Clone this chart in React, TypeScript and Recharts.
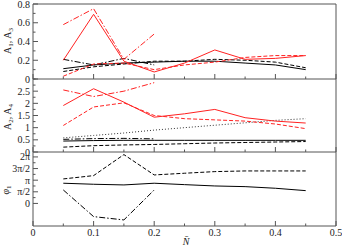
import React from 'react';
import { LineChart, Line, XAxis, YAxis } from 'recharts';

// x values (N bar)
const N = [0.05, 0.1, 0.15, 0.2, 0.25, 0.3, 0.35, 0.4, 0.45];
const xTicks = [0, 0.05, 0.1, 0.15, 0.2, 0.25, 0.3, 0.35, 0.4, 0.45, 0.5];
const xLabels = ['0', '', '0.1', '', '0.2', '', '0.3', '', '0.4', '', '0.5'];

// Panel 1: A1, A3
const a1Solid = [0.11, 0.15, 0.17, 0.18, 0.19, 0.19, 0.17, 0.15, 0.1];
const a1Dashed = [0.08, 0.13, 0.16, 0.19, 0.19, 0.21, 0.2, 0.18, 0.12];
const a1DashDot = [0.21, 0.15, 0.22, 0.15];
const a3Solid = [0.2, 0.69, 0.19, 0.075, 0.17, 0.31, 0.21, 0.22, 0.25];
const a3Dashed = [0.03, 0.16, 0.17, 0.1, 0.15, 0.18, 0.23, 0.25, 0.25];
const a3DashDot = [0.58, 0.75, 0.21, 0.48];
const p1Ticks = [0, 0.1, 0.2, 0.3, 0.4, 0.5, 0.6, 0.7, 0.8];
const p1Labels = ['0', '', '0.2', '', '0.4', '', '0.6', '', '0.8'];

// Panel 2: A2, A4
const a2Solid = [0.45, 0.47, 0.48, 0.48, 0.48, 0.48, 0.48, 0.48, 0.48];
const a2Dashed = [0.2, 0.26, 0.29, 0.31, 0.34, 0.37, 0.39, 0.41, 0.43];
const a2DashDot = [0.52, 0.55, 0.56, 0.54];
const a2Dotted = [0.58, 0.68, 0.78, 0.9, 1.0, 1.1, 1.2, 1.3, 1.37];
const a4Solid = [1.91, 2.6, 2.05, 1.43, 1.57, 1.75, 1.41, 1.27, 1.19];
const a4Dashed = [1.09, 1.85, 2.02, 1.5, 1.37, 1.32, 1.27, 1.15, 0.96];
const a4DashDot = [2.55, 2.28, 2.5, 2.85];
const p2Ticks = [0, 0.25, 0.5, 0.75, 1, 1.25, 1.5, 1.75, 2, 2.25, 2.5, 2.75, 3];
const p2Labels = ['0', '', '0.5', '', '1', '', '1.5', '', '2', '', '2.5', '', ''];

// Panel 3: phi1 (radians)
const phiSolid = [2.73, 2.59, 2.5, 2.73, 2.54, 2.36, 2.27, 2.05, 1.73];
const phiDashed = [3.31, 3.76, 6.6, 3.85, 4.08, 4.3, 4.39, 4.39, 4.39];
const phiDashDot = [1.82, -1.78, -2.23, 1.82];
const PI = Math.PI;
const p3Ticks = [0, PI / 4, PI / 2, (3 * PI) / 4, PI, (5 * PI) / 4, (3 * PI) / 2, (7 * PI) / 4, 2 * PI];
const p3Labels = ['0', '', 'π/2', '', 'π', '', '3π/2', '', '2π'];

const row = (i: number, keys: Record<string, number[]>) => {
  const r: Record<string, number | undefined> = { n: N[i] };
  Object.keys(keys).forEach((k) => {
    r[k] = keys[k][i];
  });
  return r;
};

const data1 = N.map((_, i) => row(i, { s: a1Solid, d: a1Dashed, dd: a1DashDot, rs: a3Solid, rd: a3Dashed, rdd: a3DashDot }));
const data2 = N.map((_, i) => row(i, { s: a2Solid, d: a2Dashed, dd: a2DashDot, dot: a2Dotted, rs: a4Solid, rd: a4Dashed, rdd: a4DashDot }));
const data3 = N.map((_, i) => row(i, { s: phiSolid, d: phiDashed, dd: phiDashDot }));

const FONT = '"Liberation Serif", "Times New Roman", serif';
const AXIS = '#555';
const TXT = '#222';
const RED = '#ff2222';
const DASH = '4 2';
const DASHDOT = '6 2 1.5 2';

function XTick(props: any) {
  const { x, y, payload, index, showLabel } = props;
  const lab = xLabels[index] ?? '';
  const major = Math.abs(payload.value * 10 - Math.round(payload.value * 10)) < 1e-6;
  return (
    <g>
      <line x1={x} x2={x} y1={y} y2={y - (major ? 5 : 2.5)} stroke={AXIS} strokeWidth={1} />
      {showLabel && lab !== '' && (
        <text x={x} y={y + 10} textAnchor="middle" fontSize={10} fontFamily={FONT} fill={TXT}>
          {lab}
        </text>
      )}
    </g>
  );
}

function YTick(props: any) {
  const { x, y, index, labels } = props;
  const lab = labels[index] ?? '';
  const major = lab !== '';
  return (
    <g>
      <line x1={x} x2={x + (major ? 5 : 2.5)} y1={y} y2={y} stroke={AXIS} strokeWidth={1} />
      {major && (
        <text x={x - 3} y={y + 3.5} textAnchor="end" fontSize={10} fontFamily={FONT} fill={TXT}>
          {lab}
        </text>
      )}
    </g>
  );
}

const W = 342;
const H = 248;
const LEFT = 33;
const RIGHT = 6;

function Panel(props: {
  data: any[];
  top: number;
  bottom: number;
  domain: [number, number];
  ticks: number[];
  labels: string[];
  showX: boolean;
  frameTop: boolean;
  children: React.ReactNode;
}) {
  const { data, top, bottom, domain, ticks, labels, showX, frameTop, children } = props;
  return (
    <div style={{ position: 'absolute', left: 0, top: 0 }}>
      <LineChart
        width={W}
        height={H}
        data={data}
        margin={{ top: frameTop ? top - 1 : top, right: RIGHT - 1, left: 0, bottom: H - bottom - 1 }}
      >
        <XAxis
          dataKey="n"
          type="number"
          domain={[0, 0.5]}
          ticks={xTicks}
          interval={0}
          height={1}
          tickSize={0}
          tickMargin={0}
          tickLine={false}
          axisLine={{ stroke: AXIS }}
          tick={(p: any) => <XTick {...p} showLabel={showX} />}
        />
        {frameTop && (
          <XAxis
            xAxisId="top"
            orientation="top"
            dataKey="n"
            type="number"
            domain={[0, 0.5]}
            height={1}
            tick={false}
            tickLine={false}
            axisLine={{ stroke: AXIS }}
          />
        )}
        <YAxis
          type="number"
          domain={domain}
          ticks={ticks}
          interval={0}
          width={LEFT}
          tickSize={0}
          tickMargin={0}
          tickLine={false}
          allowDataOverflow
          axisLine={{ stroke: AXIS }}
          tick={(p: any) => <YTick {...p} labels={labels} />}
        />
        <YAxis yAxisId="r" orientation="right" width={1} tick={false} tickLine={false} axisLine={{ stroke: AXIS }} />
        {children}
      </LineChart>
    </div>
  );
}

const ln = (key: string, color: string, dash?: string) => (
  <Line
    key={key}
    dataKey={key}
    type="linear"
    stroke={color}
    strokeWidth={1}
    strokeDasharray={dash}
    dot={false}
    activeDot={false}
    isAnimationActive={false}
  />
);

export default function App() {
  return (
    <div style={{ position: 'absolute', left: 0, top: 0, width: W, height: H, background: '#fff', fontFamily: FONT }}>
      <Panel data={data1} top={4} bottom={79} domain={[0, 0.8]} ticks={p1Ticks} labels={p1Labels} showX={false} frameTop>
        {ln('s', '#000')}
        {ln('d', '#000', DASH)}
        {ln('dd', '#000', DASHDOT)}
        {ln('rs', RED)}
        {ln('rd', RED, DASH)}
        {ln('rdd', RED, DASHDOT)}
      </Panel>
      <Panel data={data2} top={79} bottom={152} domain={[0, 3]} ticks={p2Ticks} labels={p2Labels} showX={false} frameTop={false}>
        {ln('s', '#000')}
        {ln('d', '#000', DASH)}
        {ln('dd', '#000', DASHDOT)}
        {ln('dot', '#333', '1 2')}
        {ln('rs', RED)}
        {ln('rd', RED, DASH)}
        {ln('rdd', RED, DASHDOT)}
      </Panel>
      <Panel data={data3} top={152} bottom={226} domain={[-3.05, 6.95]} ticks={p3Ticks} labels={p3Labels} showX frameTop={false}>
        {ln('s', '#000')}
        {ln('d', '#000', DASH)}
        {ln('dd', '#000', DASHDOT)}
      </Panel>
      <svg width={W} height={H} style={{ position: 'absolute', left: 0, top: 0, pointerEvents: 'none' }}>
        <text transform="rotate(-90, 11, 41)" x={11} y={41} textAnchor="middle" fontSize={10} fontFamily={FONT} fill={TXT}>
          A<tspan fontSize={7} dy={2}>1</tspan>
          <tspan dy={-2}>, A</tspan>
          <tspan fontSize={7} dy={2}>3</tspan>
        </text>
        <text transform="rotate(-90, 11, 117)" x={11} y={117} textAnchor="middle" fontSize={10} fontFamily={FONT} fill={TXT}>
          A<tspan fontSize={7} dy={2}>2</tspan>
          <tspan dy={-2}>, A</tspan>
          <tspan fontSize={7} dy={2}>4</tspan>
        </text>
        <text transform="rotate(-90, 9, 190)" x={9} y={190} textAnchor="middle" fontSize={10} fontFamily={FONT} fill={TXT} fontStyle="italic">
          φ<tspan fontSize={7} dy={2} fontStyle="normal">1</tspan>
        </text>
        <text x={186} y={245} textAnchor="middle" fontSize={10} fontFamily={FONT} fill={TXT} fontStyle="italic">
          N̄
        </text>
      </svg>
    </div>
  );
}
